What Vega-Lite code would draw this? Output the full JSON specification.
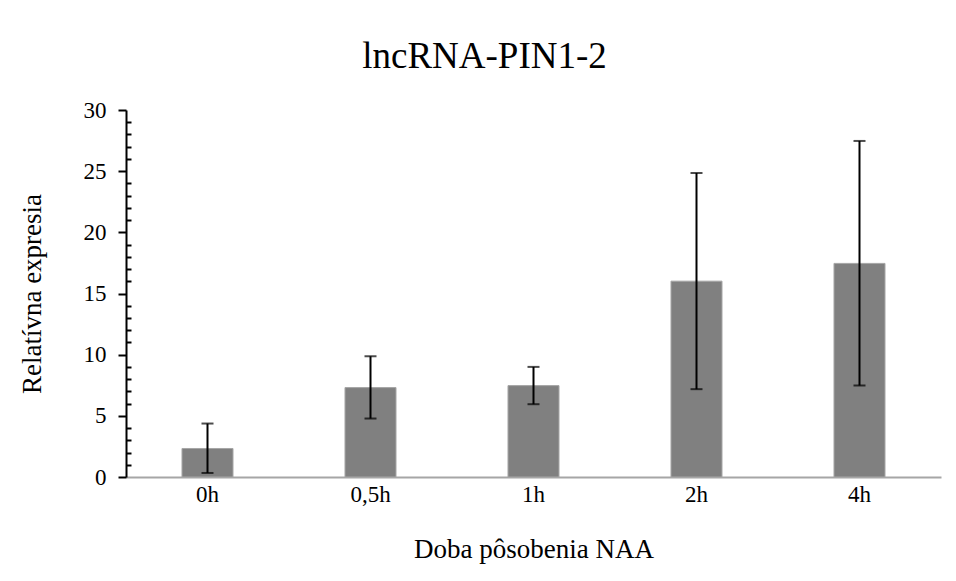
{
  "$schema": "https://vega.github.io/schema/vega-lite/v6.json",
  "width": 815,
  "height": 367,
  "autosize": {"type": "none"},
  "padding": {"left": 126, "top": 110, "right": 15, "bottom": 104},
  "background": "white",
  "title": {
    "text": "lncRNA-PIN1-2",
    "font": "Liberation Serif",
    "fontSize": 37,
    "fontWeight": "normal",
    "color": "black",
    "anchor": "middle",
    "frame": "bounds",
    "baseline": "alphabetic",
    "offset": -6,
    "dx": 5
  },
  "config": {
    "view": {"stroke": null},
    "axis": {"labelFont": "Liberation Serif", "titleFont": "Liberation Serif", "labelColor": "black", "titleColor": "black", "titleFontWeight": "normal", "grid": false}
  },
  "data": {
    "values": [
      {"time": "0h", "mean": 2.33, "lo": 0.33, "hi": 4.37},
      {"time": "0,5h", "mean": 7.31, "lo": 4.78, "hi": 9.87},
      {"time": "1h", "mean": 7.47, "lo": 5.95, "hi": 9.0},
      {"time": "2h", "mean": 16.01, "lo": 7.18, "hi": 24.85},
      {"time": "4h", "mean": 17.46, "lo": 7.48, "hi": 27.47}
    ]
  },
  "encoding": {
    "x": {
      "field": "time",
      "type": "nominal",
      "sort": null,
      "scale": {"paddingInner": 0.687, "paddingOuter": 0.3435},
      "axis": {
        "title": "Doba pôsobenia NAA",
        "titleFontSize": 27,
        "titlePadding": 30,
        "labelFontSize": 23,
        "labelAngle": 0,
        "labelPadding": 6,
        "ticks": false,
        "domainColor": "#a6a6a6",
        "domainWidth": 2
      }
    }
  },
  "layer": [
    {
      "mark": {"type": "bar", "color": "#808080", "stroke": "#a6a6a6", "strokeWidth": 1},
      "encoding": {
        "y": {
          "field": "mean",
          "type": "quantitative",
          "scale": {"domain": [0, 30], "nice": false},
          "axis": {
            "title": "Relatívna expresia",
            "titleFontSize": 27,
            "titlePadding": 37,
            "labelFontSize": 23,
            "labelPadding": 12,
            "labelOverlap": false,
            "values": [0,1,2,3,4,5,6,7,8,9,10,11,12,13,14,15,16,17,18,19,20,21,22,23,24,25,26,27,28,29,30],
            "labelExpr": "datum.value % 5 === 0 ? datum.label : ''",
            "tickSize": {"condition": {"test": "datum.value % 5 === 0", "value": 8}, "value": -5},
            "tickWidth": 2,
            "tickColor": "black",
            "domainColor": "black",
            "domainWidth": 2,
            "encode": {"ticks": {"update": {"x": [{"test": "datum.value % 5 === 0", "value": 4}, {"value": 0}]}}}
          }
        }
      }
    },
    {
      "mark": {"type": "errorbar", "ticks": true, "color": "black", "thickness": 2, "size": 12},
      "encoding": {
        "y": {
          "field": "lo",
          "type": "quantitative",
          "axis": {
            "title": "Relatívna expresia",
            "titleFontSize": 27,
            "titlePadding": 37,
            "labelFontSize": 23,
            "labelPadding": 12,
            "labelOverlap": false,
            "values": [0,1,2,3,4,5,6,7,8,9,10,11,12,13,14,15,16,17,18,19,20,21,22,23,24,25,26,27,28,29,30],
            "labelExpr": "datum.value % 5 === 0 ? datum.label : ''",
            "tickSize": {"condition": {"test": "datum.value % 5 === 0", "value": 8}, "value": -5},
            "tickWidth": 2,
            "tickColor": "black",
            "domainColor": "black",
            "domainWidth": 2,
            "encode": {"ticks": {"update": {"x": [{"test": "datum.value % 5 === 0", "value": 4}, {"value": 0}]}}}
          }
        },
        "y2": {"field": "hi"}
      }
    }
  ]
}
